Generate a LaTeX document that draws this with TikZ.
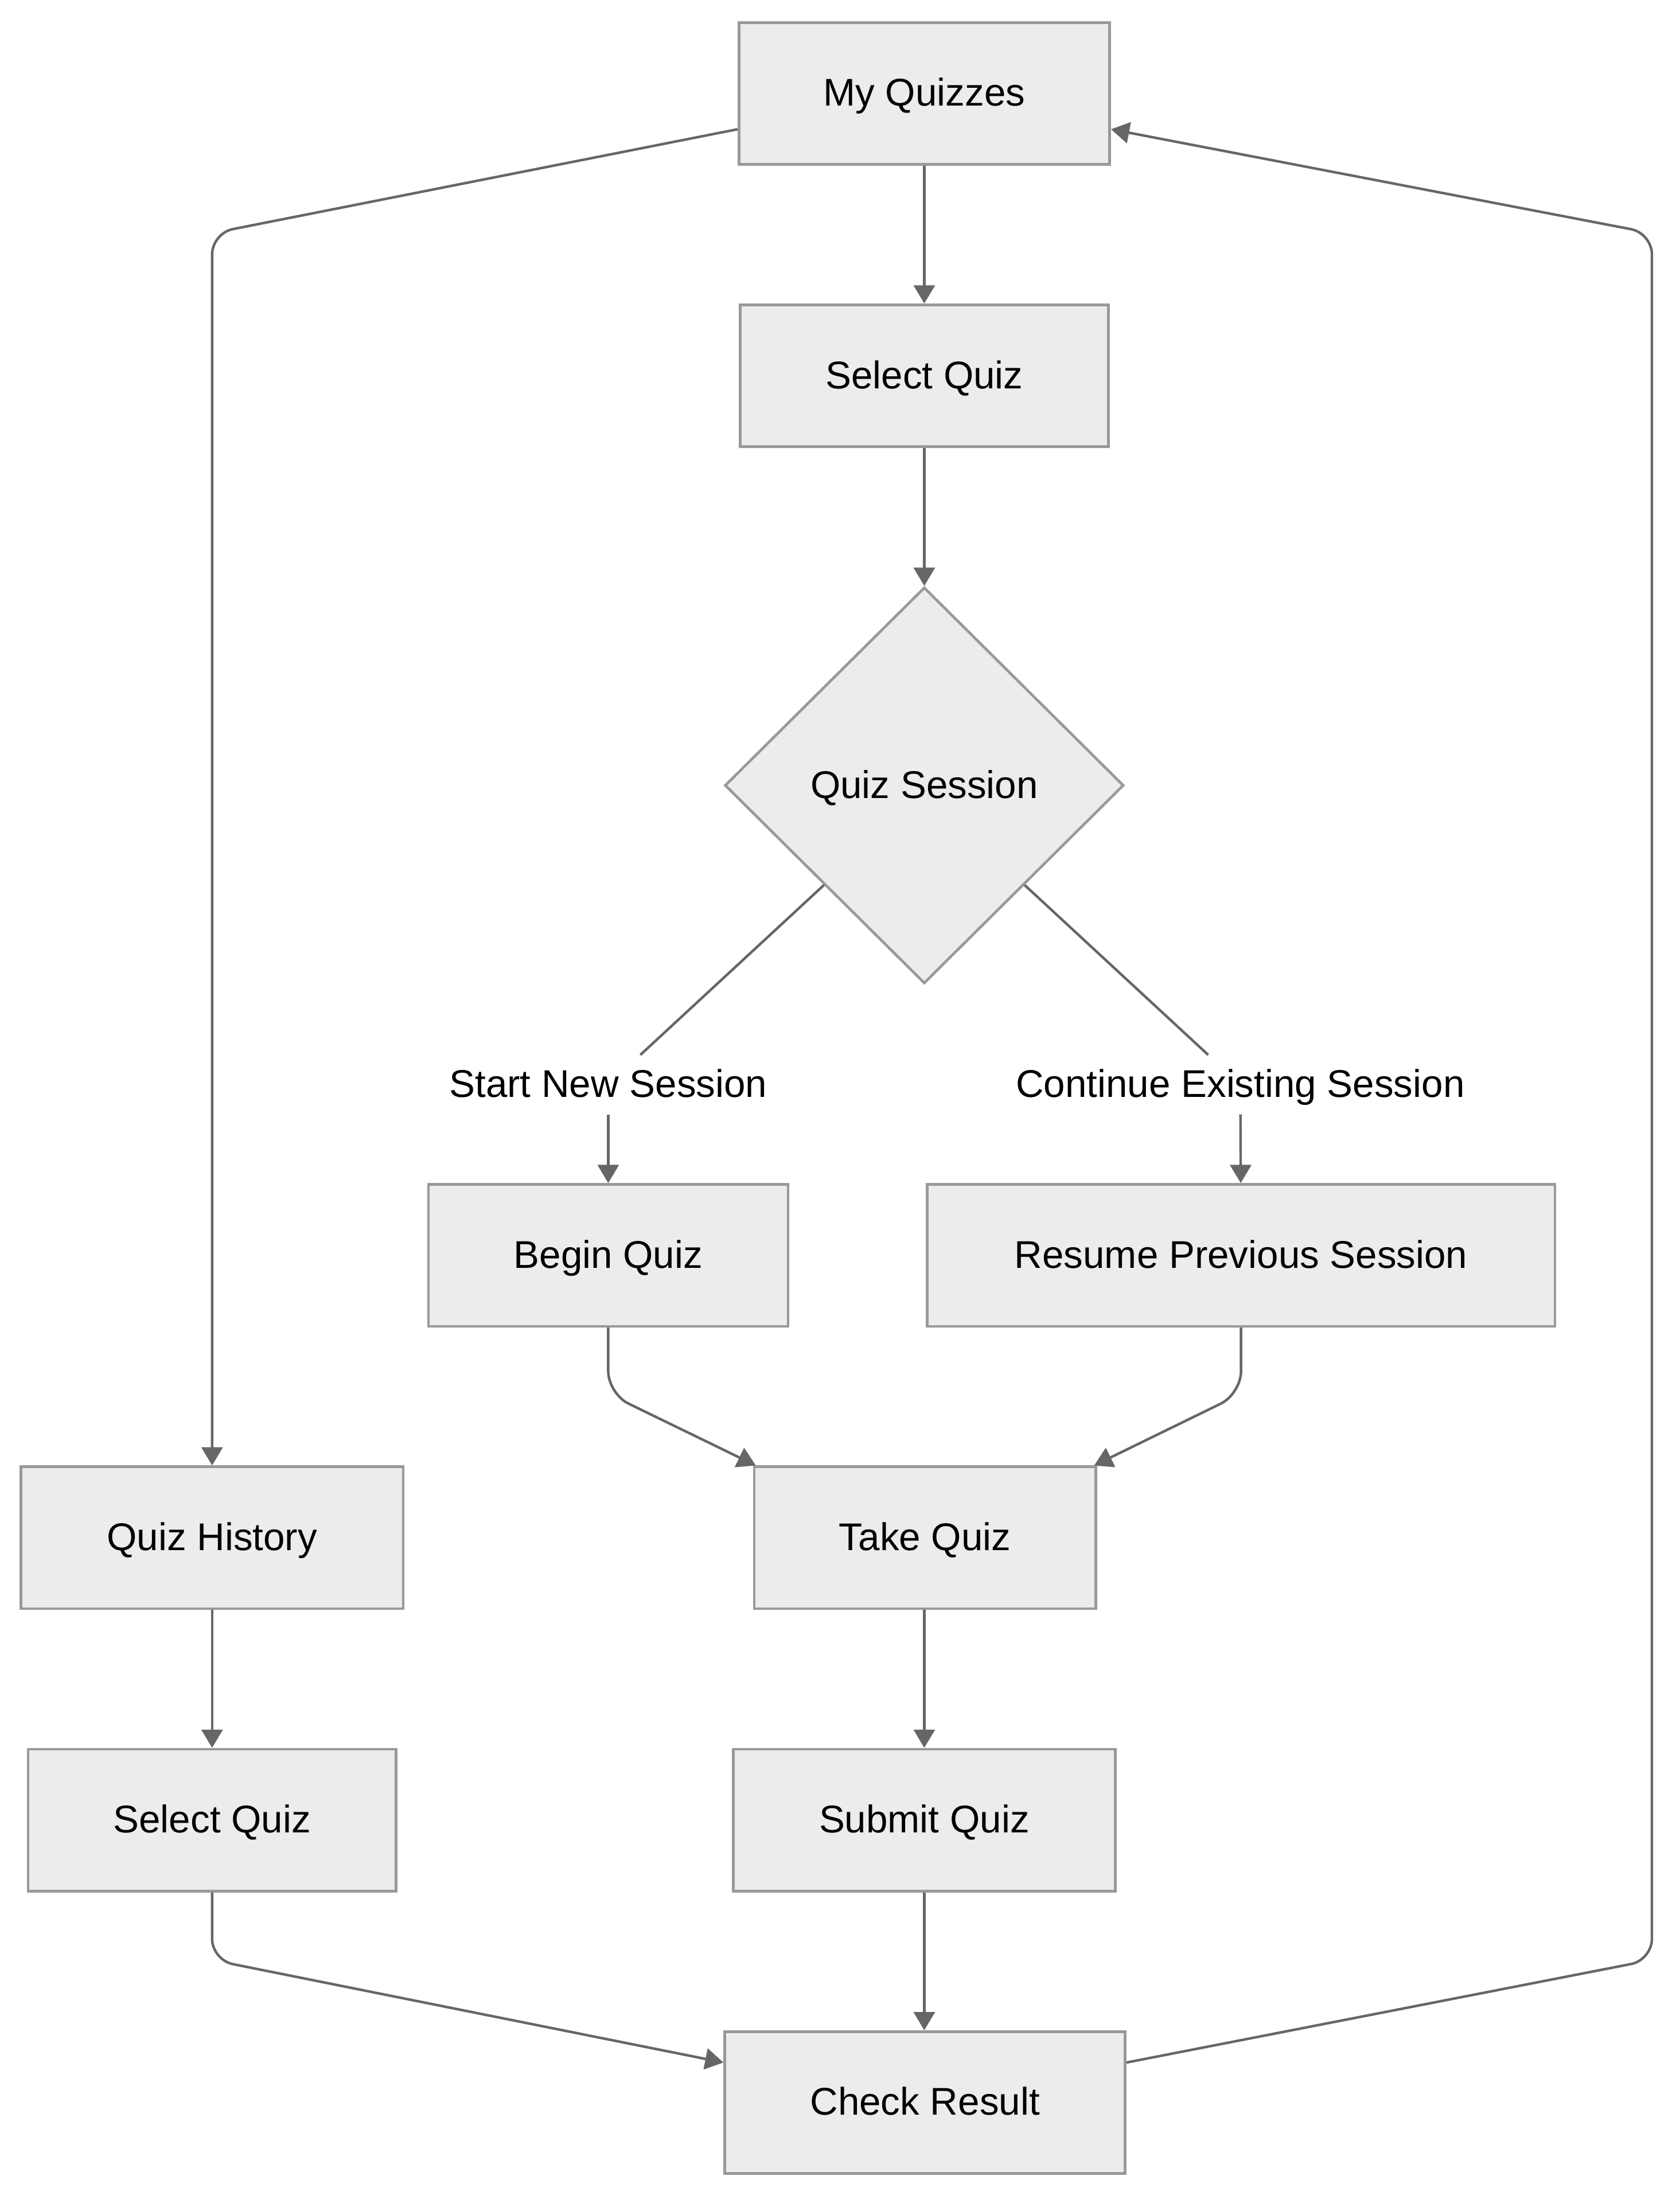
\documentclass[tikz,border=0pt]{standalone}
\usepackage{fontspec}
\setmainfont{Liberation Sans}
\usetikzlibrary{shapes.geometric,arrows.meta,calc}
\definecolor{boxfill}{HTML}{ECECEC}
\definecolor{boxline}{HTML}{999999}
\definecolor{edgecol}{HTML}{666666}
\begin{document}
\begin{tikzpicture}[x=1pt,y=-1pt,
  font=\fontsize{27.5}{33}\selectfont,
  every node/.style={text height=18pt, text depth=0pt},
  box/.style={draw=boxline, fill=boxfill, line width=1.9pt, minimum height=101pt, inner sep=0pt, text=black},
  dec/.style={diamond, draw=boxline, fill=boxfill, line width=1.9pt, minimum width=284pt, minimum height=282pt, inner sep=0pt},
  lbl/.style={minimum height=42pt, inner sep=0pt},
  link/.style={draw=edgecol, line width=1.8pt},
  arrowline/.style={link, -{Triangle[length=13pt,width=15pt]}}]
\useasboundingbox (0,0) rectangle (1196,1568);

\node[box, minimum width=264pt] (myq) at (658,66.5) {My Quizzes};
\node[box, minimum width=262pt] (sel1) at (658,267.5) {Select Quiz};
\node[dec] (dia) at (658,559) {Quiz Session};
\node[lbl] (lab1) at (433,772) {Start New Session};
\node[lbl] (lab2) at (883,772) {Continue Existing Session};
\node[box, minimum width=256pt] (beg) at (433,893.5) {Begin Quiz};
\node[box, minimum width=447pt] (res) at (883.5,893.5) {Resume Previous Session};
\node[box, minimum width=272pt] (hist) at (151,1094.5) {Quiz History};
\node[box, minimum width=243pt] (take) at (658.5,1094.5) {Take Quiz};
\node[box, minimum width=262pt] (sel2) at (151,1295.5) {Select Quiz};
\node[box, minimum width=272pt] (sub) at (658,1295.5) {Submit Quiz};
\node[box, minimum width=285pt] (chk) at (658.5,1496.5) {Check Result};

\coordinate (rc1) at (1176,1395);
\coordinate (rc2) at (1176,166);

\draw[arrowline] (myq) -- (sel1);
\draw[arrowline] (sel1) -- (dia);
\draw[link] ($(dia.west)!0.5!(dia.south)$) -- (lab1);
\draw[link] ($(dia.east)!0.5!(dia.south)$) -- (lab2);
\draw[arrowline] (lab1) -- (beg);
\draw[arrowline] (lab2) -- (res);
\draw[arrowline, rounded corners=16pt] (beg.south) -- (beg.south |- 0,992) -- ([xshift=2pt]take.north west);
\draw[arrowline, rounded corners=16pt] (res.south) -- (res.south |- 0,992) -- ([xshift=-2pt]take.north east);
\draw[arrowline] (take.south -| sub) -- (sub);
\draw[arrowline] (sub) -- (chk.north -| sub);
\draw[arrowline, rounded corners=15pt] ([yshift=-25.5pt]myq.west) -- (hist.north |- 0,166) -- (hist.north);
\draw[arrowline] (hist) -- (sel2);
\draw[arrowline, rounded corners=15pt] (sel2.south) -- (sel2.south |- 0,1395) -- ([yshift=28.5pt]chk.west);
\draw[arrowline, rounded corners=15pt] ([yshift=28.5pt]chk.east) -- (rc1) -- (rc2) -- ([yshift=-25.5pt]myq.east);
\end{tikzpicture}
\end{document}
